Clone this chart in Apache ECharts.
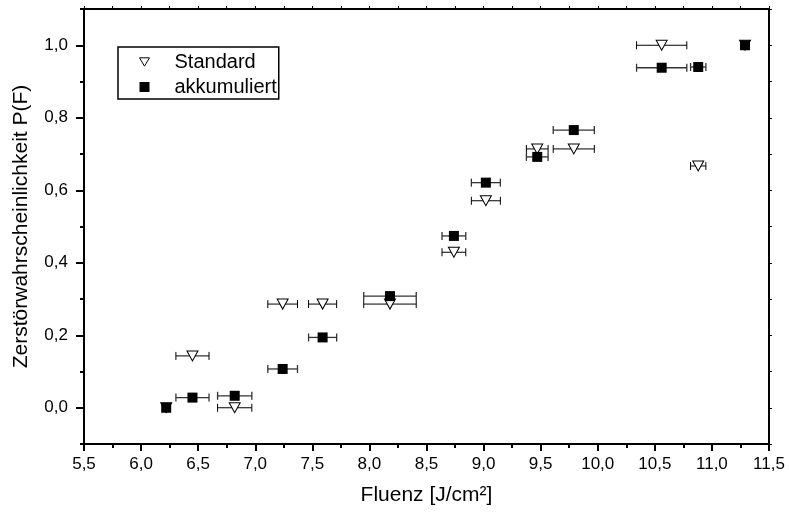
<!DOCTYPE html>
<html>
<head>
<meta charset="utf-8">
<script src="https://cdn.jsdelivr.net/npm/echarts@6/dist/echarts.min.js"></script>
<style>
html,body{margin:0;padding:0;background:#fff;}
#chart{width:789px;height:513px;}
</style>
</head>
<body>
<div id="chart"></div>
<script>
// Fluence values (x) shared by both series, and their horizontal errors
var fluenz = [6.22, 6.45, 6.82, 7.24, 7.59, 8.18, 8.74, 9.02, 9.47, 9.79, 10.56, 10.88, 11.29];
var fluenzErr = [0, 0.145, 0.15, 0.13, 0.123, 0.23, 0.104, 0.127, 0.095, 0.18, 0.22, 0.067, 0];
// Destruction probability P(F)
var standard = [0, 0.143, 0, 0.286, 0.286, 0.286, 0.429, 0.571, 0.714, 0.714, 1.0, 0.667, 1.0];
var akkumuliert = [0, 0.028, 0.033, 0.107, 0.194, 0.308, 0.474, 0.621, 0.692, 0.766, 0.938, 0.940, 1.0];
// Tick values
var yTicks = [0, 0.2, 0.4, 0.6, 0.8, 1.0];

var FONT = '"Liberation Sans", Arial, sans-serif';
var triPath = 'path://M0,0 L12,0 L6,10 Z';

function pairs(ys) { return fluenz.map(function (x, i) { return [x, ys[i]]; }); }
function triples(ys) { return fluenz.map(function (x, i) { return [x, ys[i], fluenzErr[i]]; }); }
function comma(v) { return Number(v).toFixed(1).replace('.', ','); }

function errRender(color, lw) {
  return function (params, api) {
    var x = api.value(0), y = api.value(1), e = api.value(2);
    if (!e) return null;
    var p1 = api.coord([x - e, y]);
    var p2 = api.coord([x + e, y]);
    var h = 4;
    var st = { stroke: color, lineWidth: lw };
    return {
      type: 'group',
      children: [
        { type: 'line', shape: { x1: p1[0], y1: p1[1], x2: p2[0], y2: p2[1] }, style: st },
        { type: 'line', shape: { x1: p1[0], y1: p1[1] - h, x2: p1[0], y2: p1[1] + h }, style: st },
        { type: 'line', shape: { x1: p2[0], y1: p2[1] - h, x2: p2[0], y2: p2[1] + h }, style: st }
      ]
    };
  };
}

var chart = echarts.init(document.getElementById('chart'), null, { renderer: 'canvas' });
chart.setOption({
  backgroundColor: '#fff',
  animation: false,
  textStyle: { fontFamily: FONT },
  grid: { left: 84, right: 20, top: 9, bottom: 69, containLabel: false },
  legend: {
    orient: 'vertical',
    left: 118, top: 47,
    padding: [5, 2, 2, 21],
    itemGap: 5,
    itemWidth: 10, itemHeight: 10,
    borderColor: '#000', borderWidth: 1.5,
    textStyle: { fontFamily: FONT, fontSize: 20, color: '#000', lineHeight: 20, padding: [0, 0, 0, 20] },
    data: [
      { name: 'Standard', icon: triPath, itemStyle: { color: '#fff', borderColor: '#000', borderWidth: 1 } },
      { name: 'akkumuliert', icon: 'rect', itemStyle: { color: '#000', borderWidth: 0 } }
    ]
  },
  xAxis: [{
    type: 'value', position: 'bottom',
    min: 5.5, max: 11.5, interval: 0.5,
    name: 'Fluenz [J/cm²]', nameLocation: 'middle', nameGap: 41,
    nameTextStyle: { fontFamily: FONT, fontSize: 21, color: '#000' },
    axisLine: { show: true, onZero: false, lineStyle: { color: '#000', width: 2 } },
    axisTick: { show: true, inside: false, length: 7, lineStyle: { color: '#000', width: 2 } },
    minorTick: { show: true, splitNumber: 2, length: 4, lineStyle: { color: '#000', width: 2 } },
    axisLabel: { fontFamily: FONT, fontSize: 17, color: '#000', margin: 12, formatter: comma, showMinLabel: true, showMaxLabel: true },
    splitLine: { show: false }
  }, {
    type: 'value', position: 'top',
    min: 5.5, max: 11.5, interval: 0.25,
    axisLine: { show: true, onZero: false, lineStyle: { color: '#000', width: 2 } },
    axisTick: { show: true, inside: false, length: 3, lineStyle: { color: '#000', width: 1 } },
    axisLabel: { show: false },
    splitLine: { show: false }
  }],
  yAxis: [{
    type: 'value', position: 'left',
    min: -0.1, max: 1.1,
    name: 'Zerstörwahrscheinlichkeit P(F)', nameLocation: 'middle', nameGap: 52,
    nameTextStyle: { fontFamily: FONT, fontSize: 21, color: '#000' },
    axisLine: { show: true, onZero: false, lineStyle: { color: '#000', width: 2 } },
    axisTick: { show: true, inside: false, length: 8, customValues: yTicks, lineStyle: { color: '#000', width: 2 } },
    axisLabel: { fontFamily: FONT, fontSize: 17, color: '#000', margin: 16, customValues: yTicks, formatter: comma },
    splitLine: { show: false }
  }, {
    type: 'value', position: 'left',
    min: -0.1, max: 1.1, interval: 0.1,
    axisLine: { show: false, onZero: false },
    axisTick: { show: true, inside: false, length: 4, lineStyle: { color: '#000', width: 2 } },
    axisLabel: { show: false },
    splitLine: { show: false }
  }, {
    type: 'value', position: 'right',
    min: -0.1, max: 1.1, interval: 0.1,
    axisLine: { show: true, onZero: false, lineStyle: { color: '#000', width: 2 } },
    axisTick: { show: true, inside: false, length: 3, lineStyle: { color: '#000', width: 1 } },
    axisLabel: { show: false },
    splitLine: { show: false }
  }],
  series: [{
    name: 'Standard-err', type: 'custom',
    xAxisIndex: 0, yAxisIndex: 0,
    renderItem: errRender('#000', 1),
    encode: { x: 0, y: 1 },
    data: triples(standard), z: 2
  }, {
    name: 'Standard', type: 'scatter',
    xAxisIndex: 0, yAxisIndex: 0,
    symbol: triPath, symbolSize: [11, 10], symbolKeepAspect: false,
    itemStyle: { color: '#fff', borderColor: '#000', borderWidth: 1, opacity: 1 },
    data: pairs(standard), z: 3
  }, {
    name: 'akkumuliert-err', type: 'custom',
    xAxisIndex: 0, yAxisIndex: 0,
    renderItem: errRender('#333', 1.3),
    encode: { x: 0, y: 1 },
    data: triples(akkumuliert), z: 4
  }, {
    name: 'akkumuliert', type: 'scatter',
    xAxisIndex: 0, yAxisIndex: 0,
    symbol: 'rect', symbolSize: 10,
    itemStyle: { color: '#000', borderWidth: 0, opacity: 1 },
    data: pairs(akkumuliert), z: 5
  }]
});
</script>
</body>
</html>
